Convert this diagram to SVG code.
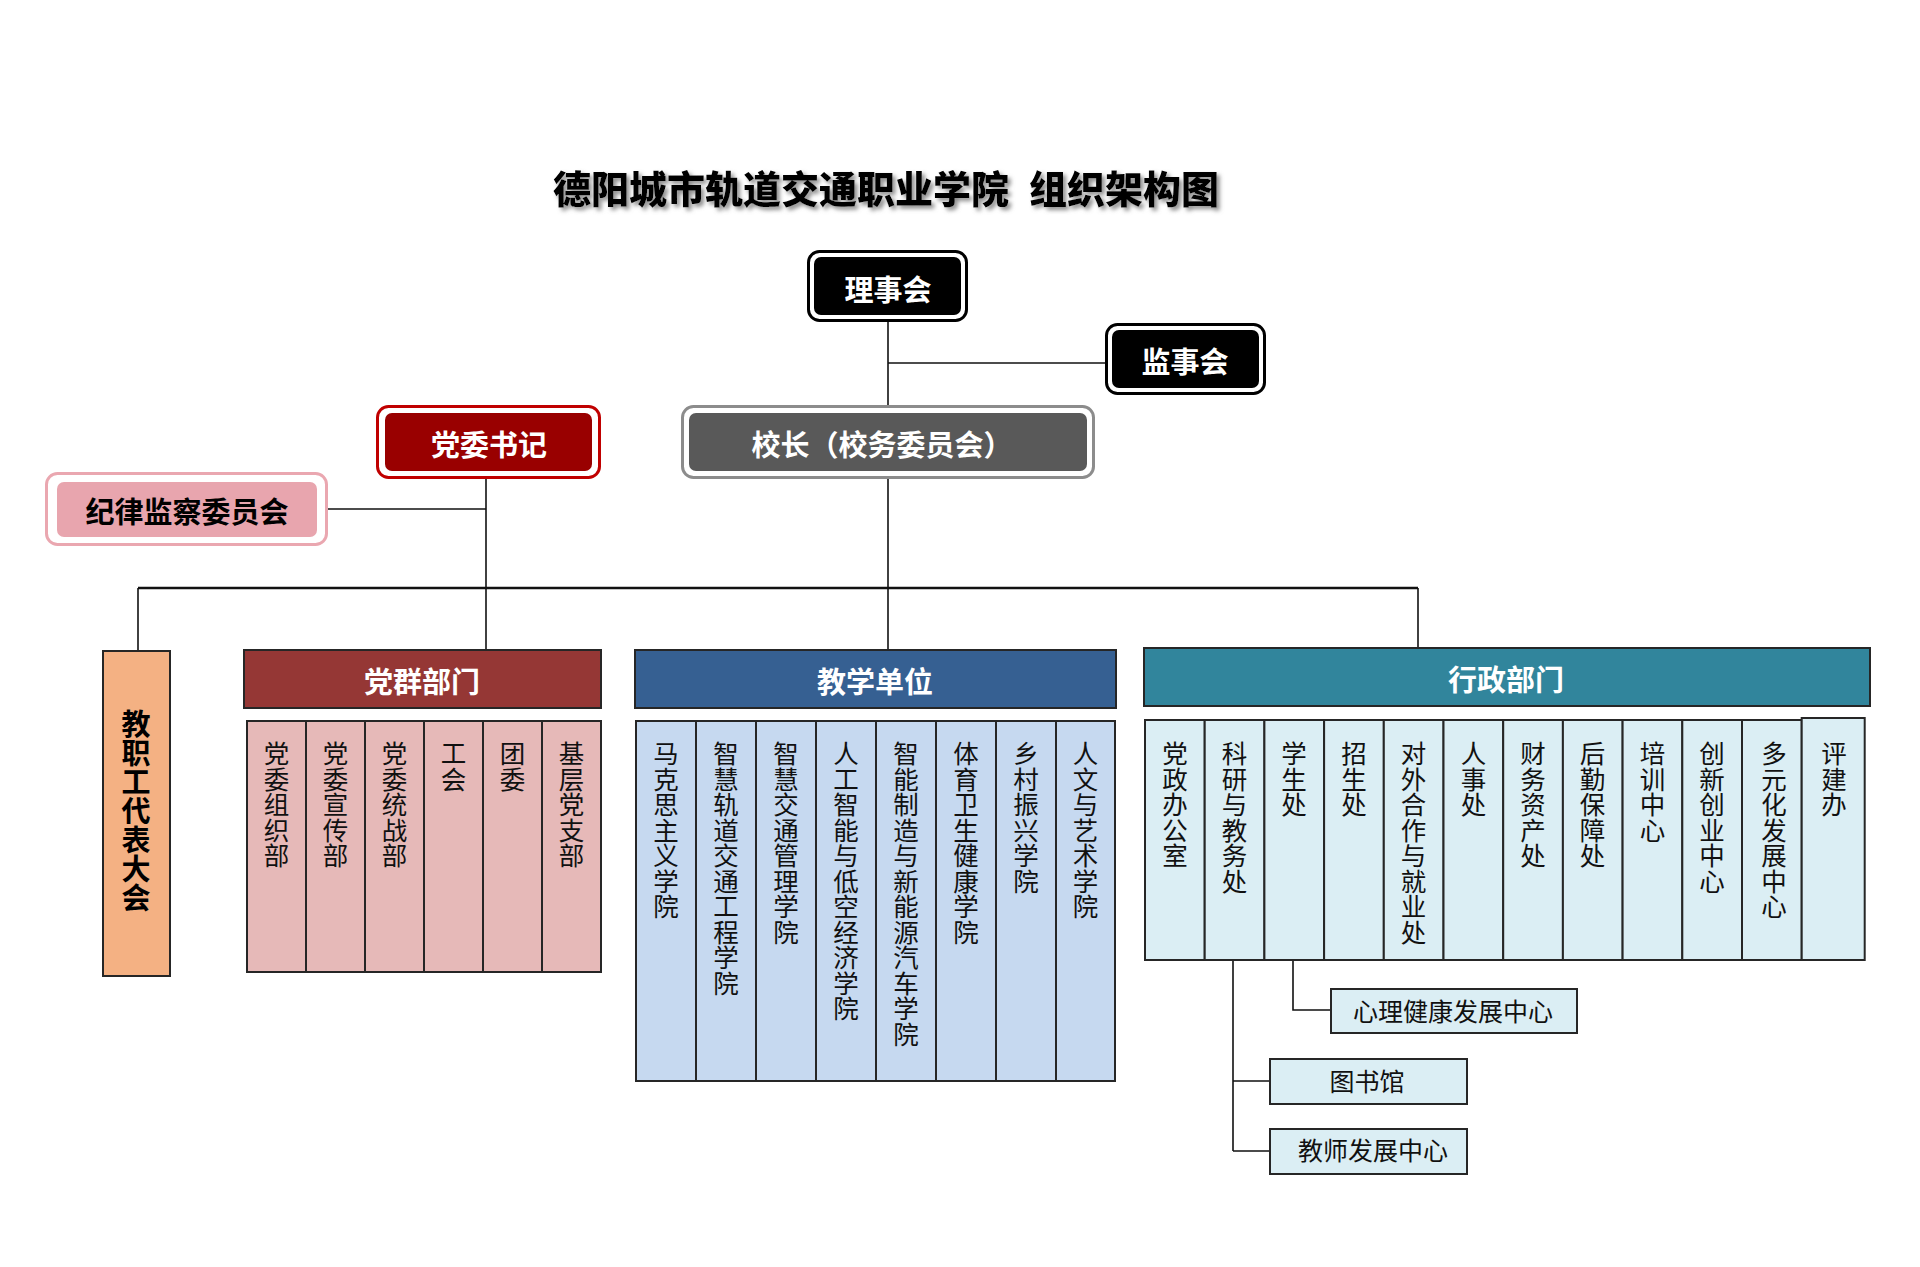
<svg xmlns="http://www.w3.org/2000/svg" width="1920" height="1267" viewBox="0 0 1920 1267">
<defs>
<filter id="sh" x="-5%" y="-30%" width="110%" height="160%">
<feDropShadow dx="3" dy="3" stdDeviation="2" flood-color="#7f7f7f" flood-opacity="0.9"/>
</filter>
<style>
text{font-family:"Noto Sans CJK SC","Noto Sans",sans-serif;}
.b{font-weight:bold;}
.w{fill:#fff;}
.c{text-anchor:middle;dominant-baseline:central;}
.v{writing-mode:vertical-rl;text-orientation:upright;font-size:25.5px;fill:#111;}
.col{stroke:#262626;stroke-width:2;}
.pq{fill:#e6b9b8;}
.jx{fill:#c6d9f0;}
.xz{fill:#dbeef4;}
.ln{stroke:#111;stroke-width:1.6;fill:none;}
</style>
</defs>
<rect width="1920" height="1267" fill="#fff"/>

<g id="title" filter="url(#sh)">
<text x="553" y="186" class="b" style="font-size:38px;dominant-baseline:central;font-weight:900">德阳城市轨道交通职业学院</text>
<text x="1029" y="186" class="b" style="font-size:38px;dominant-baseline:central;font-weight:900">组织架构图</text>
</g>

<g id="connectors">
<path class="ln" d="M888 321V406"/>
<path class="ln" d="M888 363H1105"/>
<path class="ln" d="M888 478V649"/>
<path class="ln" d="M327 509H486"/>
<path class="ln" d="M486 479V650"/>
<path class="ln" d="M138 588H1418" style="stroke-width:2.6"/>
<path class="ln" d="M138 588V650"/>
<path class="ln" d="M1418 588V647"/>
<path class="ln" d="M1233 960V1151M1233 1081H1269M1233 1151H1269"/>
<path class="ln" d="M1293 960V1010H1330"/>
</g>

<g id="lishihui">
<rect x="808.5" y="251.5" width="158" height="69" rx="11" fill="#fff" stroke="#000" stroke-width="3"/>
<rect x="814" y="257" width="147" height="58" rx="7" fill="#000"/>
<text x="888" y="288" class="b w c" style="font-size:29px">理事会</text>
</g>

<g id="jianshihui">
<rect x="1106.5" y="324.5" width="158" height="69" rx="11" fill="#fff" stroke="#000" stroke-width="3"/>
<rect x="1112" y="330" width="147" height="58" rx="7" fill="#000"/>
<text x="1185" y="360" class="b w c" style="font-size:29px">监事会</text>
</g>

<g id="xiaozhang">
<rect x="682.5" y="406.5" width="411" height="71" rx="11" fill="#fff" stroke="#8c8c8c" stroke-width="3"/>
<rect x="689" y="413" width="398" height="58" rx="7" fill="#595959"/>
<text x="882" y="443" class="b w c" style="font-size:29px">校长（校务委员会）</text>
</g>

<g id="dangweishuji">
<rect x="377.5" y="406.5" width="222" height="71" rx="11" fill="#fff" stroke="#c00000" stroke-width="3"/>
<rect x="385" y="413" width="207" height="58" rx="7" fill="#990000"/>
<text x="489" y="443" class="b w c" style="font-size:29px">党委书记</text>
</g>

<g id="jilv">
<rect x="46.5" y="473.5" width="280" height="71" rx="11" fill="#fff" stroke="#eaa7b0" stroke-width="3"/>
<rect x="57" y="482" width="260" height="55" rx="7" fill="#e8a5ae"/>
<text x="187" y="510" class="b c" style="font-size:29px;fill:#000">纪律监察委员会</text>
</g>

<g id="jiaozhigong">
<rect x="103" y="651" width="67" height="325" fill="#f4b183" class="col"/>
<text x="136" y="709" class="v b" style="font-size:29px;fill:#000">教职工代表大会</text>
</g>

<g id="dangqun">
<rect x="244" y="650" width="357" height="58" fill="#953735" class="col"/>
<text x="422" y="680" class="b w c" style="font-size:29px">党群部门</text>
<rect x="247" y="721" width="59" height="251" class="pq col"/>
<rect x="306" y="721" width="59" height="251" class="pq col"/>
<rect x="365" y="721" width="59" height="251" class="pq col"/>
<rect x="424" y="721" width="59" height="251" class="pq col"/>
<rect x="483" y="721" width="59" height="251" class="pq col"/>
<rect x="542" y="721" width="59" height="251" class="pq col"/>
<text x="276.5" y="741" class="v">党委组织部</text>
<text x="335.5" y="741" class="v">党委宣传部</text>
<text x="394.5" y="741" class="v">党委统战部</text>
<text x="453.5" y="741" class="v">工会</text>
<text x="512.5" y="741" class="v">团委</text>
<text x="571.5" y="741" class="v">基层党支部</text>
</g>

<g id="jiaoxue">
<rect x="635" y="650" width="481" height="58" fill="#366092" class="col"/>
<text x="875" y="680" class="b w c" style="font-size:29px">教学单位</text>
<rect x="636" y="721" width="60" height="360" class="jx col"/>
<rect x="696" y="721" width="60" height="360" class="jx col"/>
<rect x="756" y="721" width="60" height="360" class="jx col"/>
<rect x="816" y="721" width="60" height="360" class="jx col"/>
<rect x="876" y="721" width="60" height="360" class="jx col"/>
<rect x="936" y="721" width="60" height="360" class="jx col"/>
<rect x="996" y="721" width="60" height="360" class="jx col"/>
<rect x="1056" y="721" width="59" height="360" class="jx col"/>
<text x="666" y="741" class="v">马克思主义学院</text>
<text x="726" y="741" class="v">智慧轨道交通工程学院</text>
<text x="786" y="741" class="v">智慧交通管理学院</text>
<text x="846" y="741" class="v">人工智能与低空经济学院</text>
<text x="906" y="741" class="v">智能制造与新能源汽车学院</text>
<text x="966" y="741" class="v">体育卫生健康学院</text>
<text x="1026" y="741" class="v">乡村振兴学院</text>
<text x="1085.5" y="741" class="v">人文与艺术学院</text>
</g>

<g id="xingzheng">
<rect x="1144" y="648" width="726" height="58" fill="#31859c" class="col"/>
<text x="1506" y="678" class="b w c" style="font-size:29px">行政部门</text>
<rect x="1145" y="720" width="59.7" height="240" class="xz col"/>
<rect x="1204.7" y="720" width="59.7" height="240" class="xz col"/>
<rect x="1264.4" y="720" width="59.7" height="240" class="xz col"/>
<rect x="1324.1" y="720" width="59.7" height="240" class="xz col"/>
<rect x="1383.8" y="720" width="59.7" height="240" class="xz col"/>
<rect x="1443.5" y="720" width="59.7" height="240" class="xz col"/>
<rect x="1503.2" y="720" width="59.7" height="240" class="xz col"/>
<rect x="1562.9" y="720" width="59.7" height="240" class="xz col"/>
<rect x="1622.6" y="720" width="59.7" height="240" class="xz col"/>
<rect x="1682.3" y="720" width="59.7" height="240" class="xz col"/>
<rect x="1742" y="720" width="59.7" height="240" class="xz col"/>
<rect x="1801.7" y="718" width="63" height="242" class="xz col"/>
<text x="1175" y="741" class="v">党政办公室</text>
<text x="1234.5" y="741" class="v">科研与教务处</text>
<text x="1294" y="741" class="v">学生处</text>
<text x="1354" y="741" class="v">招生处</text>
<text x="1413.5" y="741" class="v">对外合作与就业处</text>
<text x="1473.5" y="741" class="v">人事处</text>
<text x="1533" y="741" class="v">财务资产处</text>
<text x="1592.5" y="741" class="v">后勤保障处</text>
<text x="1652.5" y="741" class="v">培训中心</text>
<text x="1712" y="741" class="v">创新创业中心</text>
<text x="1774" y="741" class="v">多元化发展中心</text>
<text x="1834" y="741" class="v">评建办</text>
</g>

<g id="xinli">
<rect x="1331" y="989" width="246" height="44" class="xz col"/>
<text x="1453" y="1010" class="c" style="font-size:25px;fill:#111">心理健康发展中心</text>
</g>
<g id="tushuguan">
<rect x="1270" y="1059" width="197" height="45" class="xz col"/>
<text x="1367" y="1080" class="c" style="font-size:25px;fill:#111">图书馆</text>
</g>
<g id="jiaoshi">
<rect x="1270" y="1129" width="197" height="45" class="xz col"/>
<text x="1373" y="1149" class="c" style="font-size:25px;fill:#111">教师发展中心</text>
</g>
</svg>
